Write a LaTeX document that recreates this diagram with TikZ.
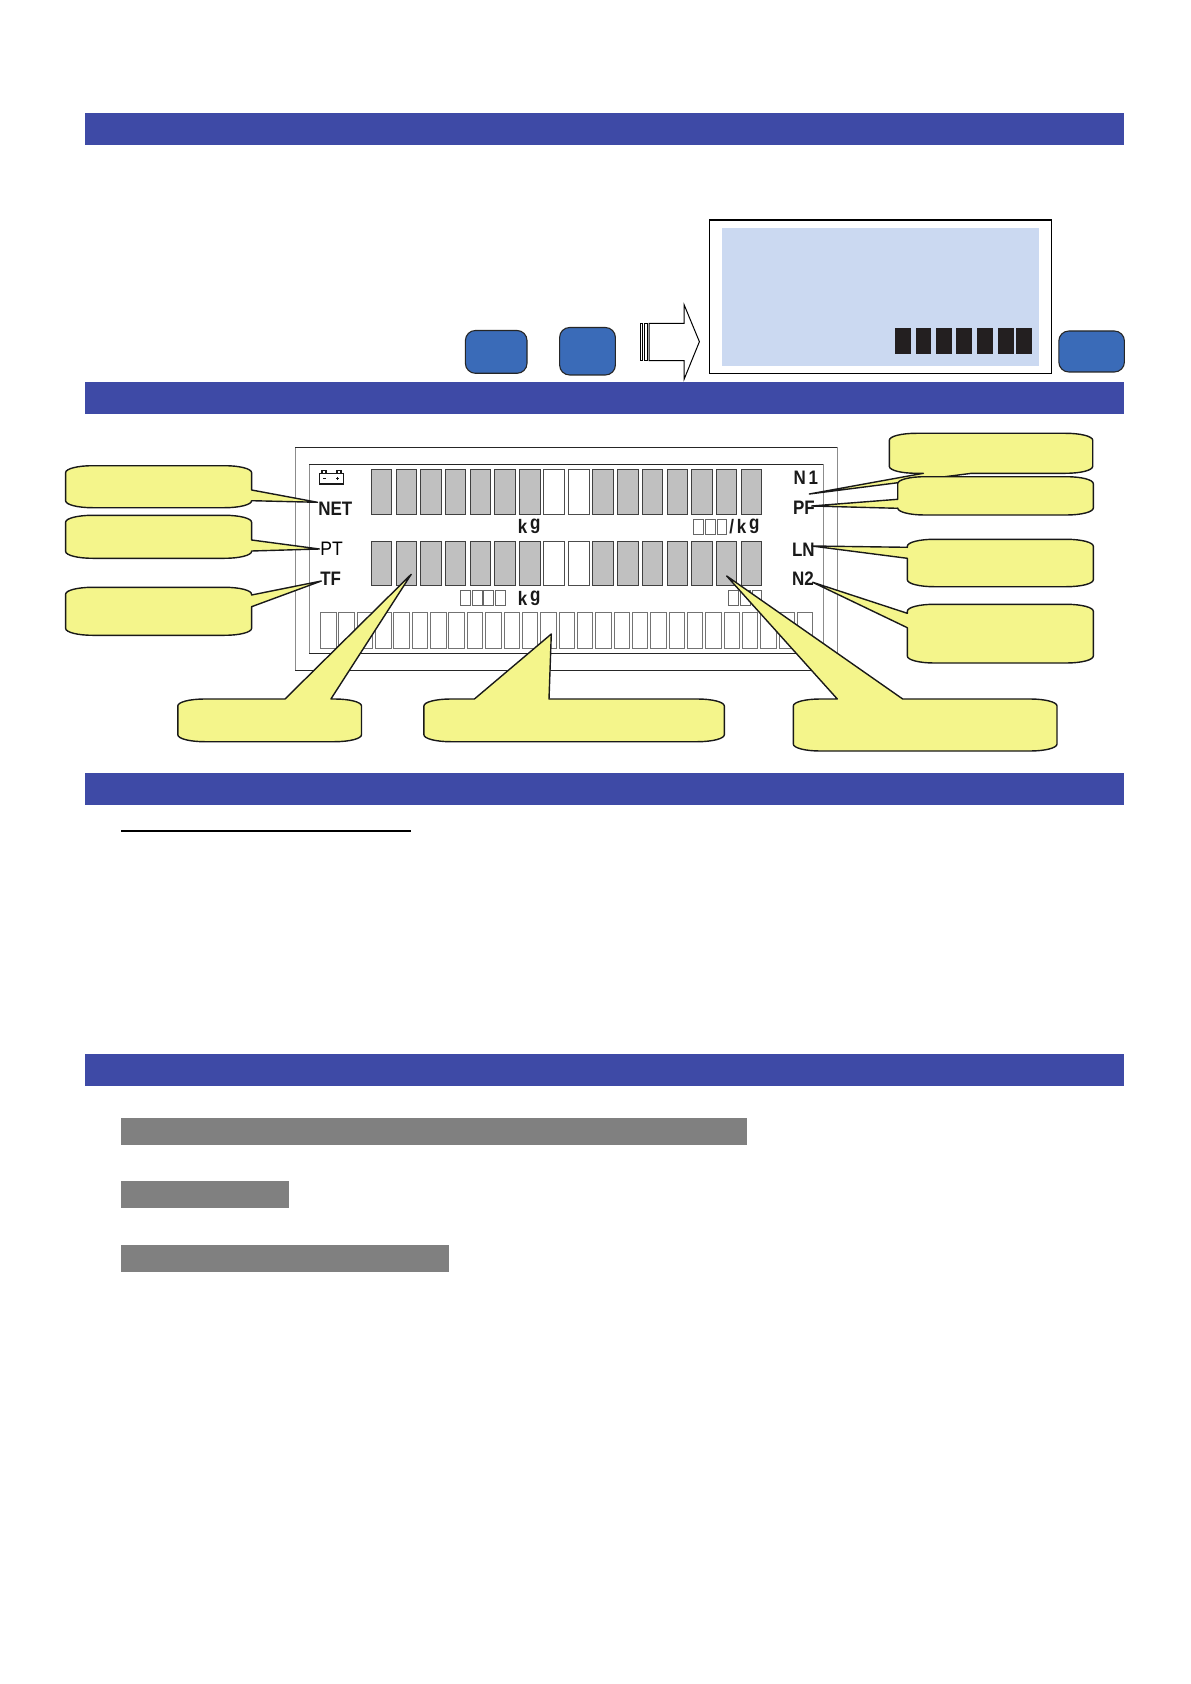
\documentclass[tikz,border=0pt]{standalone}
\usepackage{fontspec}
\setmainfont{Liberation Sans}
\definecolor{barblue}{HTML}{3E4AA6}
\definecolor{keyblue}{HTML}{3A6BB8}
\definecolor{panelblue}{HTML}{CBD9F1}
\definecolor{blockblack}{HTML}{231F20}
\definecolor{calloutyellow}{HTML}{F4F58B}
\definecolor{cellgrey}{HTML}{C0C0C0}
\definecolor{bandgrey}{HTML}{808080}
\tikzset{
  band/.style={fill=barblue,draw=none},
  greyband/.style={fill=bandgrey,draw=none},
  keybtn/.style={fill=keyblue,draw=black!85,line width=.55pt,rounded corners=5pt},
  block/.style={fill=blockblack,draw=none},
  cellon/.style={fill=cellgrey,draw=black!75,line width=.45pt},
  celloff/.style={fill=white,draw=black!70,line width=.45pt},
  botcell/.style={fill=white,draw=black!55,line width=.4pt},
  tinybox/.style={fill=white,draw=black!60,line width=.45pt},
  bubble/.style={fill=calloutyellow,draw=black!90,line width=.7pt,line join=round},
  lcdbold/.style={font=\fontsize{9.75}{10}\selectfont\bfseries,inner sep=0pt,anchor=base west,xscale=.87,transform shape,text=black!90},
  lcdreg/.style={font=\fontsize{9.75}{10}\selectfont,inner sep=0pt,anchor=base west,xscale=.9,transform shape,text=black},
}
\newcommand\bub[8]{%
  \path[bubble] ({#1+27},#2) #5 -- ({#3-27},#2)
   .. controls ({#3-12},#2) and (#3,{#2+3}) .. (#3,{#2+7}) #6 -- (#3,{#4-7})
   .. controls (#3,{#4-3}) and ({#3-12},#4) .. ({#3-27},#4) #7 -- ({#1+27},#4)
   .. controls ({#1+12},#4) and (#1,{#4-3}) .. (#1,{#4-7}) #8 -- (#1,{#2+7})
   .. controls (#1,{#2+3}) and ({#1+12},#2) .. ({#1+27},#2) -- cycle;}
\newcommand\kgtext{k\,\raisebox{.17em}{g}}
\begin{document}
\begin{tikzpicture}[x=.5pt,y=-.5pt]
\useasboundingbox[fill=white] (0,0) rectangle (1190,1684);
% section bands
\fill[band] (85,113) rectangle (1124,145);
\fill[band] (85,382) rectangle (1124,414);
\fill[band] (85,773) rectangle (1124,804.5);
\fill[band] (85,1054) rectangle (1124,1085.5);
% keys
\draw[keybtn] (465.4,330.5) rectangle (527,373.3);
\draw[keybtn] (559.6,327.5) rectangle (615.4,375);
\draw[keybtn] (1058.8,331) rectangle (1124.4,372);
% arrow
\draw[line width=.5pt,fill=white,line join=miter] (649,323.3) -- (684.2,323.3) -- (684.2,305) -- (699.4,341.7) -- (684.2,379) -- (684.2,360.7) -- (649,360.7) -- cycle;
\draw[line width=.45pt] (640,323.3) rectangle (642.7,360.7);
\draw[line width=.45pt] (644,323.3) rectangle (647.7,360.7);
% display
\draw[line width=.5pt,fill=white] (709.2,220) rectangle (1051.6,373.3);
\draw[line width=1pt] (709.2,220) -- (1051.6,220);
\fill[panelblue] (722,228) rectangle (1039,365.7);
\foreach \a/\b in {894.9/911,915.9/931,936/952.1,956/972.1,977/993.1,998/1014.1,1015.9/1032}
  \fill[block] (\a,328) rectangle (\b,354);
% LCD frame
\draw[black!45,line width=.5pt] (295.3,447.3) -- (295.3,670) (837,447.3) -- (837,670);
\draw[black!85,line width=.5pt] (295.3,447.3) -- (837,447.3) (295.3,670) -- (837,670);
\draw[black!45,line width=.5pt] (309.4,464) -- (309.4,653.3) (823,464) -- (823,653.3);
\draw[black!85,line width=.5pt] (309.4,464) -- (823,464) (309.4,653.3) -- (823,653.3);
% battery icon
\draw[black!90,line width=.6pt] (319.5,473.5) rectangle (343.5,484);
\draw[black!90,line width=.6pt] (322,473.5) -- (322,470.7) -- (326,470.7) -- (326,473.5) (337,473.5) -- (337,470.7) -- (341,470.7) -- (341,473.5);
\draw[black!90,line width=.4pt] (323,478) -- (326,478) (336,478.5) -- (339,478.5) (337.5,477) -- (337.5,480);
% segment cells
\foreach \a/\b/\s in {371.4/391.3/cellon,396.3/416.6/cellon,420.4/441.8/cellon,445.3/465.6/cellon,470.2/490.8/cellon,494.6/515.7/cellon,519.5/540.6/cellon,543.6/564.3/celloff,568.5/589.6/celloff,592.6/613.7/cellon,617.4/638.2/cellon,642.3/662.7/cellon,667.3/687.3/cellon,691.3/712.7/cellon,716.3/736.7/cellon,741.3/761.7/cellon}{
  \draw[\s] (\a,469.3) rectangle (\b,514.3);
  \draw[\s] (\a,541.3) rectangle (\b,585.3);
}
\foreach \i in {0,...,26}
  \draw[botcell] ({320.5+18.34*\i},612.3) rectangle ({336+18.34*\i},648.7);
% small boxes
\foreach \a/\b in {693.3/703.3,705.3/715,717.3/726.7}
  \draw[tinybox] (\a,519) rectangle (\b,534.3);
\foreach \a/\b in {460.2/470.9,472.5/482.4,483.9/493.9,495.4/505.7}
  \draw[tinybox] (\a,590) rectangle (\b,605.7);
\foreach \a/\b in {728.3/738.3,740.3/750,752/761.7}
  \draw[tinybox] (\a,590) rectangle (\b,605.7);
% LCD text
\node[lcdbold] (net) at (318,515) {NET};
\node[lcdreg] (pt) at (320,555) {PT};
\node[lcdbold] (tf) at (320,585) {TF};
\node[lcdbold] (none) at (793.3,484) {N\,1};
\node[lcdbold] (pf) at (792.7,514) {PF};
\node[lcdbold] (ln) at (791.7,556) {LN};
\node[lcdbold] (ntwo) at (791.7,585.3) {N2};
\node[lcdbold] (kga) at (517.6,533.3) {\kgtext};
\node[lcdbold] (kgb) at (517.6,605.3) {\kgtext};
\node[lcdbold] (kgc) at (729,533.3) {/\,\kgtext};
% callouts
\bub{65.6}{465.7}{251.6}{507.7}{}{-- (251.6,490) -- (317.5,502.3) -- (251.6,500.7)}{}{}
\bub{65.6}{515.3}{251.6}{558.3}{}{-- (251.6,540) -- (319.4,549) -- (251.6,551)}{}{}
\bub{65.6}{587.3}{251.6}{635.3}{}{-- (251.6,595) -- (321.3,581) -- (251.6,606.7)}{}{}
\bub{177.8}{699}{361.5}{741.7}{-- (285,699) -- (411.2,574.3) -- (330.9,699)}{}{}{}
\bub{423.9}{699}{724.3}{741.7}{-- (474.4,699) -- (551.3,634) -- (549,699)}{}{}{}
\bub{793.3}{699}{1057}{751}{-- (837.3,699) -- (726.7,576) -- (902.7,699)}{}{}{}
\bub{889.3}{433.3}{1092.7}{473.3}{}{}{-- (971.7,473.3) -- (809.3,494) -- (923.3,473.3)}{}
\bub{897.7}{476.7}{1093.3}{515}{}{}{}{-- (897.7,508.3) -- (811.7,506) -- (897.7,499.3)}
\bub{907.3}{539.3}{1093.3}{586.7}{}{}{}{-- (907.3,558.3) -- (811.7,546) -- (907.3,547.3)}
\bub{907.3}{604.3}{1093.3}{663}{}{}{}{-- (907.3,627.7) -- (812.7,582.3) -- (907.3,613.3)}
% lower part
\fill[black] (121,830) rectangle (411,832.2);
\fill[greyband] (121,1118) rectangle (747,1144.5);
\fill[greyband] (121,1181) rectangle (289,1208);
\fill[greyband] (121,1245) rectangle (449,1271.5);
\end{tikzpicture}
\end{document}
